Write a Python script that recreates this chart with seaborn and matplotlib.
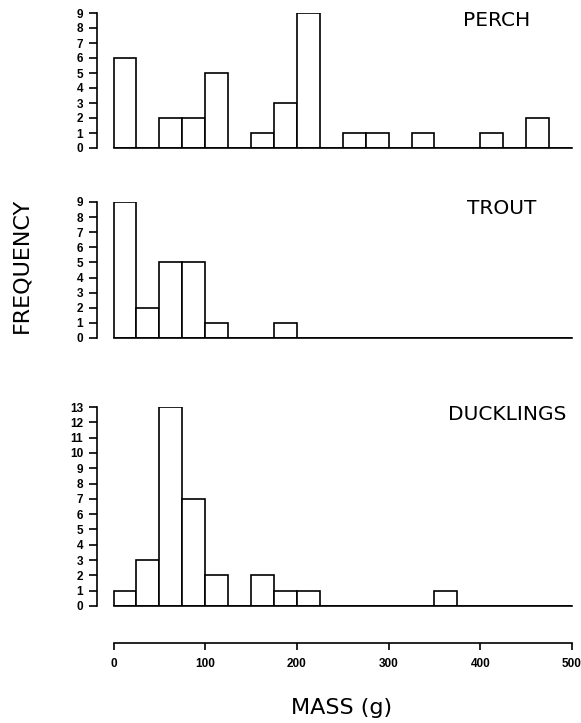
import numpy as np
import pandas as pd
import matplotlib
matplotlib.use("Agg")
import matplotlib.pyplot as plt
import seaborn as sns

# bin lower edges (g), bin width 25 g
bin_edges = list(range(0, 525, 25))
bin_starts = list(range(0, 500, 25))

perch_counts = [6, 0, 2, 2, 5, 0, 1, 3, 9, 0, 1, 1, 0, 1, 0, 0, 1, 0, 2, 0]
trout_counts = [9, 2, 5, 5, 1, 0, 0, 1, 0, 0, 0, 0, 0, 0, 0, 0, 0, 0, 0, 0]
duck_counts = [1, 3, 13, 7, 2, 0, 2, 1, 1, 0, 0, 0, 0, 0, 1, 0, 0, 0, 0, 0]

panel_names = ["PERCH", "TROUT", "DUCKLINGS"]
panel_ymax = [9, 9, 13]
x_ticks = [0, 100, 200, 300, 400, 500]

sns.set_theme(style="ticks")
plt.rcParams["font.family"] = ["Liberation Sans", "DejaVu Sans"]
plt.rcParams["text.color"] = "black"
plt.rcParams["xtick.color"] = "black"
plt.rcParams["ytick.color"] = "black"

W, H = 581, 723
fig = plt.figure(figsize=(W / 100, H / 100), dpi=100)


def fx(px):
    return px / W


def fy(py):
    return 1 - py / H


x_left_px, x_right_px = 97, 572
xlim = (-18, 500)

# panel pixel extents (top, bottom)
panel_px = [(13, 148), (202, 338), (407, 606)]
label_pos = [(463, 21), (467, 208), (448, 415)]

lw = 1.2
tick_fs = 8.5
for name, counts, ymax, (top, bot), (lx, ly) in zip(
        panel_names, [perch_counts, trout_counts, duck_counts], panel_ymax,
        panel_px, label_pos):
    ax = fig.add_axes([fx(x_left_px), fy(bot), fx(x_right_px - x_left_px),
                       (bot - top) / H])
    df = pd.DataFrame({"mass": [b + 12.5 for b in bin_starts], "n": counts})
    sns.histplot(data=df, x="mass", weights="n", bins=bin_edges, ax=ax,
                 element="bars", fill=True, color="white",
                 edgecolor="black", linewidth=lw, alpha=1)
    ax.set_xlim(*xlim)
    ax.set_ylim(0, ymax)
    ax.set_yticks(range(0, ymax + 1))
    ax.set_yticklabels([str(v) for v in range(0, ymax + 1)],
                       fontsize=tick_fs, fontweight="bold")
    ax.tick_params(axis="y", direction="out", length=6, width=lw, pad=4,
                   colors="black")
    ax.set_xticks([])
    ax.set_xlabel("")
    ax.set_ylabel("")
    for s in ["top", "right"]:
        ax.spines[s].set_visible(False)
    ax.spines["left"].set_linewidth(lw)
    ax.spines["left"].set_color("black")
    ax.spines["bottom"].set_bounds(0, 500)
    ax.spines["bottom"].set_linewidth(lw)
    ax.spines["bottom"].set_color("black")
    ax.patch.set_alpha(0)
    fig.text(fx(lx), fy(ly), name, fontsize=14.5, ha="left", va="center",
             family="DejaVu Sans", color="black")

# separate x axis
axx = fig.add_axes([fx(x_left_px), fy(643), fx(x_right_px - x_left_px), 0.01])
axx.set_xlim(*xlim)
axx.set_ylim(0, 1)
for s in ["top", "right", "left"]:
    axx.spines[s].set_visible(False)
axx.spines["bottom"].set_bounds(0, 500)
axx.spines["bottom"].set_linewidth(lw)
axx.spines["bottom"].set_color("black")
axx.set_yticks([])
axx.set_xticks(x_ticks)
axx.set_xticklabels([str(v) for v in x_ticks], fontsize=tick_fs,
                    fontweight="bold")
axx.tick_params(axis="x", direction="out", length=5, width=lw, pad=6,
                colors="black")
axx.patch.set_alpha(0)

fig.text(fx(342), fy(708), "MASS (g)", fontsize=16, ha="center",
         va="center", family="DejaVu Sans", color="black")
fig.text(fx(21), fy(265), "FREQUENCY", fontsize=16, ha="center",
         va="center", rotation=90, family="DejaVu Sans", color="black")

fig.savefig("out.png", dpi=100, facecolor="white")
